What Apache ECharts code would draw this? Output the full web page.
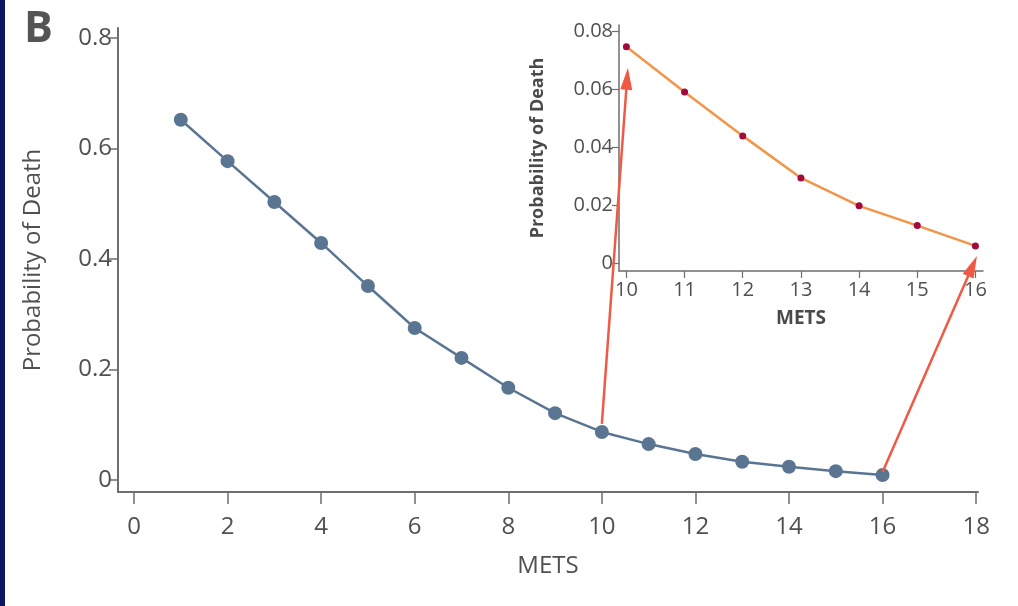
<!DOCTYPE html>
<html>
<head>
<meta charset="utf-8">
<script src="https://cdn.jsdelivr.net/npm/echarts@6/dist/echarts.min.js"></script>
<style>
html,body{margin:0;padding:0;background:#fff;}
#main{width:1018px;height:606px;}
#band{position:absolute;left:0;top:0;width:5px;height:606px;background:#0b1760;}
</style>
</head>
<body>
<div id="main"></div>
<div id="band"></div>
<script>
var mets = [1, 2, 3, 4, 5, 6, 7, 8, 9, 10, 11, 12, 13, 14, 15, 16]; //主图横坐标
var probDeath = [0.652, 0.577, 0.503, 0.429, 0.351, 0.275, 0.221, 0.167, 0.121, 0.087, 0.065, 0.047, 0.033, 0.024, 0.016, 0.009]; //主图死亡概率
var insetMets = [10, 11, 12, 13, 14, 15, 16]; //小图横坐标
var insetProb = [0.0747, 0.0591, 0.0440, 0.0295, 0.0199, 0.0131, 0.0061]; //小图死亡概率
var mainXTicks = [0, 2, 4, 6, 8, 10, 12, 14, 16, 18];
var mainYTicks = [0, 0.2, 0.4, 0.6, 0.8];
var insetXTicks = [10, 11, 12, 13, 14, 15, 16];
var insetYTicks = [0, 0.02, 0.04, 0.06, 0.08];

var font = '"Open Sans", "Noto Sans", sans-serif';
var txt = '#505050';
var axisCol = '#6e6e6e';

function pairs(xs, ys) {
	return xs.map(function (x, i) { return [x, ys[i]]; });
}

var chart = echarts.init(document.getElementById('main'));
var option = {
	animation: false,
	backgroundColor: '#fff',
	title: {
		text: 'B', left: 19, top: 3,
		textStyle: { fontFamily: font, fontSize: 43, fontWeight: 'bold', color: '#555' }
	},
	grid: [
		{ left: 118, right: 40, top: 28, bottom: 114, outerBoundsMode: 'none' }, //主图
		{ left: 619, right: 35, top: 25, bottom: 335, outerBoundsMode: 'none' }  //小图
	],
	xAxis: [
		{
			type: 'value', gridIndex: 0, min: -0.342, max: 18.04,
			name: 'METS', nameLocation: 'middle', nameGap: 62,
			nameTextStyle: { fontFamily: font, fontSize: 24, color: txt },
			axisLine: { show: true, onZero: false, lineStyle: { color: axisCol, width: 2 } },
			axisTick: { show: true, length: 12, lineStyle: { color: axisCol, width: 1.5 }, customValues: mainXTicks },
			axisLabel: { fontFamily: font, fontSize: 24, color: txt, margin: 23, customValues: mainXTicks },
			splitLine: { show: false }
		},
		{
			type: 'value', gridIndex: 1, min: 9.873, max: 16.13,
			name: 'METS', nameLocation: 'middle', nameGap: 38,
			nameTextStyle: { fontFamily: font, fontSize: 19, fontWeight: 'bold', color: '#4a4a4a' },
			axisLine: { show: true, onZero: false, lineStyle: { color: axisCol, width: 1.5 } },
			axisTick: { show: true, length: 7, lineStyle: { color: axisCol, width: 1.2 }, customValues: insetXTicks },
			axisLabel: { fontFamily: font, fontSize: 20, color: txt, margin: 9, customValues: insetXTicks },
			splitLine: { show: false }
		}
	],
	yAxis: [
		{
			type: 'value', gridIndex: 0, min: -0.0217, max: 0.818,
			name: 'Probability of Death', nameLocation: 'middle', nameGap: 73,
			nameTextStyle: { fontFamily: font, fontSize: 24, color: txt },
			axisLine: { show: true, onZero: false, lineStyle: { color: axisCol, width: 2 } },
			axisTick: { show: true, length: 9, lineStyle: { color: axisCol, width: 1.5 }, customValues: mainYTicks },
			axisLabel: { fontFamily: font, fontSize: 24, color: txt, margin: 6, customValues: mainYTicks,
				formatter: function (v) { return v === 0 ? '0' : v.toFixed(1); } },
			splitLine: { show: false }
		},
		{
			type: 'value', gridIndex: 1, min: -0.00255, max: 0.0822,
			name: 'Probability of Death', nameLocation: 'middle', nameGap: 72,
			nameTextStyle: { fontFamily: font, fontSize: 18, fontWeight: 'bold', color: '#4a4a4a' },
			axisLine: { show: true, onZero: false, lineStyle: { color: axisCol, width: 1.5 } },
			axisTick: { show: true, length: 7, lineStyle: { color: axisCol, width: 1.2 }, customValues: insetYTicks },
			axisLabel: { fontFamily: font, fontSize: 20, color: txt, margin: 6, customValues: insetYTicks,
				formatter: function (v) { return v === 0 ? '0' : v.toFixed(2); } },
			splitLine: { show: false }
		}
	],
	series: [
		{
			type: 'line', xAxisIndex: 0, yAxisIndex: 0,
			data: pairs(mets, probDeath),
			symbol: 'circle', symbolSize: 14,
			lineStyle: { color: '#5a7592', width: 2.5 },
			itemStyle: { color: '#5a7592' }
		},
		{
			type: 'line', xAxisIndex: 1, yAxisIndex: 1,
			data: pairs(insetMets, insetProb),
			symbol: 'circle', symbolSize: 7,
			lineStyle: { color: '#f39548', width: 2.5 },
			itemStyle: { color: '#a00a3c' }
		}
	]
};
chart.setOption(option);

//箭头：从主图的点指向小图对应的点
function arrow(from, to, offFrom, offTo) {
	var a = chart.convertToPixel({ gridIndex: 0 }, from);
	var b = chart.convertToPixel({ gridIndex: 1 }, to);
	a = [a[0], a[1] - offFrom];
	b = [b[0] + 1.5, b[1] + offTo];
	var dx = b[0] - a[0], dy = b[1] - a[1];
	var len = Math.sqrt(dx * dx + dy * dy);
	var ux = dx / len, uy = dy / len;
	var hl = 22, hw = 6;
	var base = [b[0] - ux * hl, b[1] - uy * hl];
	var col = '#ef5a45';
	return [
		{ type: 'line', z: 100, shape: { x1: a[0], y1: a[1], x2: base[0] + ux * 2, y2: base[1] + uy * 2 },
			style: { stroke: col, lineWidth: 2.5 } },
		{ type: 'polygon', z: 100, shape: { points: [b,
			[base[0] - uy * hw, base[1] + ux * hw],
			[base[0] + uy * hw, base[1] - ux * hw]] },
			style: { fill: col } }
	];
}
var n = mets.length;
var g = [].concat(
	arrow([mets[9], probDeath[9]], [insetMets[0], insetProb[0]], 8, 21),
	arrow([mets[n - 1], probDeath[n - 1]], [insetMets[6], insetProb[6]], 3, 10)
);
chart.setOption({ graphic: g });
</script>
</body>
</html>
